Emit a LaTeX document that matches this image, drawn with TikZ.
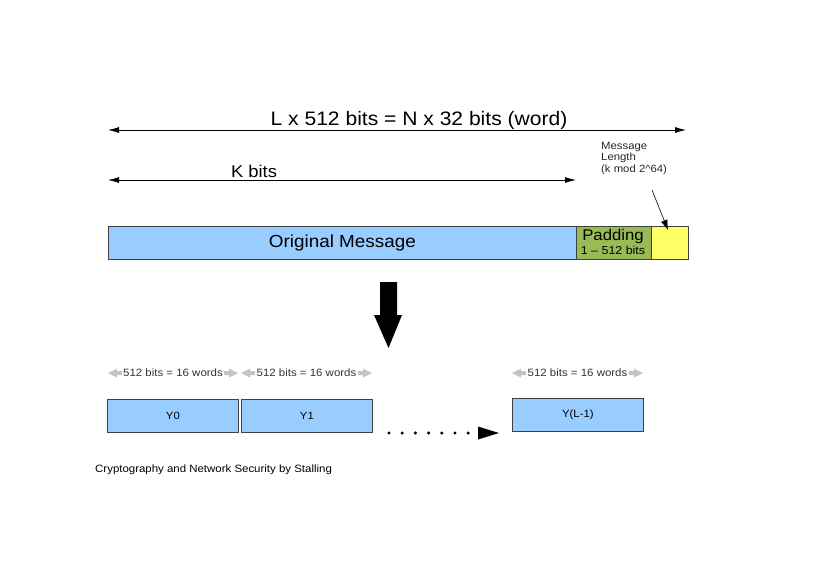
\documentclass[tikz,border=0pt]{standalone}
\usepackage{fontspec}
\setmainfont{Liberation Sans}[FakeStretch=1.08]
\usetikzlibrary{arrows.meta}
\definecolor{msgblue}{HTML}{99CCFF}
\definecolor{padgreen}{HTML}{99BB55}
\definecolor{lenyellow}{HTML}{FFFF66}
\definecolor{tri}{HTML}{C4C4C4}
\tikzset{
  dim/.style={{Latex[length=11pt,width=6pt]}-{Latex[length=11pt,width=6pt]}, line width=0.8pt},
  seg/.style={draw=black!75, line width=0.8pt, inner sep=0pt, anchor=north west},
  blk/.style={draw=black!75, line width=0.8pt, fill=msgblue, minimum width=131pt, minimum height=33pt, inner sep=0pt, anchor=north west},
  smalltxt/.style={font=\fontsize{10.5}{12}\selectfont, inner sep=0pt},
  wlabel/.style={font=\fontsize{10.6}{12}\selectfont, text=black!80, inner sep=0pt}
}
\newcommand{\wordspan}[3]{% x-left, x-right, name
  \fill[tri] (#1,373) -- (#1+9,368.5) -- (#1+9,371) -- (#1+14,371) -- (#1+14,375) -- (#1+9,375) -- (#1+9,377.5) -- cycle;
  \fill[tri] (#2,373) -- (#2-9,368.5) -- (#2-9,371) -- (#2-14,371) -- (#2-14,375) -- (#2-9,375) -- (#2-9,377.5) -- cycle;
  \node[wlabel, fill=white, inner xsep=0.5pt] (#3) at ({(#1+#2)/2},373) {512 bits = 16 words};
}
\begin{document}
\begin{tikzpicture}[x=1pt,y=-1pt]
\useasboundingbox (0,0) rectangle (824,574);
% top dimension
\coordinate (tl) at (108,130);
\coordinate (tr) at (686,130);
\draw[dim] (tl) -- (tr);
\node[font=\fontsize{19.5}{21}\selectfont, inner sep=0pt] (ltitle) at (419,120) {L x 512 bits = N x 32 bits (word)};
% K bits
\coordinate (kl) at (108,180);
\coordinate (kr) at (576,180);
\draw[dim] (kl) -- (kr);
\node[font=\fontsize{17}{19}\selectfont, inner sep=0pt] (kbits) at (254,171) {K bits};
% message length label
\node[font=\fontsize{10.5}{11.5}\selectfont, align=left, anchor=north west, inner sep=0pt, text=black!85] (mlen) at (601,142) {Message\\Length\\(k mod 2\^{}64)};
% bar
\node[seg, fill=msgblue, minimum width=468pt, minimum height=33pt] (orig) at (108,226) {};
\node[font=\fontsize{17.5}{19}\selectfont] at (orig.center) {Original Message};
\node[seg, fill=padgreen, minimum width=75pt, minimum height=33pt] (pad) at (576,226) {};
\node[font=\fontsize{15.5}{16}\selectfont, inner sep=0pt] (padt) at (613,236) {Padding};
\node[font=\fontsize{11.5}{13}\selectfont, inner sep=0pt] (padb) at (613,250.5) {1 -- 512 bits};
\node[seg, fill=lenyellow, minimum width=37pt, minimum height=33pt] (len) at (651,226) {};
\coordinate (mstart) at (652,190);
\draw[line width=0.6pt, -{Latex[length=10pt,width=7pt]}] (mstart) -- (668,230);
% big down arrow
\fill (380,282) -- (397,282) -- (397,315) -- (402,315) -- (388.5,348) -- (374,315) -- (380,315) -- cycle;
% word spans
\wordspan{108}{238}{w0}
\wordspan{241}{372}{w1}
\wordspan{512}{643}{w2}
% blocks
\node[blk] (y0) at (107,399) {};
\node[smalltxt] at (y0.center) {Y0};
\node[blk] (y1) at (241,399) {};
\node[smalltxt] at (y1.center) {Y1};
\node[blk] (yl) at (512,398) {};
\node[smalltxt] at (yl.center) {Y(L-1)};
% dots
\foreach \i in {0,...,6} \fill (389+\i*13.2,433) circle (1.7);
\fill (478,426.5) -- (499,433) -- (478,439.5) -- cycle;
% footer
\node[font=\fontsize{10.6}{12}\selectfont, anchor=west, inner sep=0pt] (foot) at (95,470) {Cryptography and Network Security by Stalling};
\end{tikzpicture}
\end{document}
